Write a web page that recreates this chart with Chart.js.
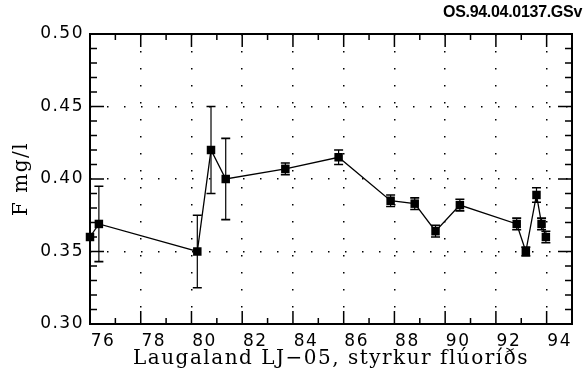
<!DOCTYPE html>
<html>
<head>
<meta charset="utf-8">
<script src="https://cdn.jsdelivr.net/npm/chart.js@4/dist/chart.umd.min.js"></script>
<style>
  html, body { margin: 0; padding: 0; background: #fff; }
  #wrap { position: relative; width: 586px; height: 380px; }
  #kodi {
    position: absolute; right: 4px; top: 3px;
    font: bold 16px "Liberation Sans", Arial, sans-serif;
    letter-spacing: -0.3px; color: #000;
  }
</style>
</head>
<body>
<div id="wrap">
  <div id="kodi">OS.94.04.0137.GSv</div>
  <canvas id="graf" width="586" height="380"></canvas>
</div>
<script>
// ar (19xx) og styrkur fluorids (mg/l) med ovissu
const ar = [76.0, 76.35, 80.23, 80.77, 81.35, 83.7, 85.8, 87.85, 88.8, 89.62, 90.58, 92.82, 93.18, 93.6, 93.8, 93.97];
const fluor = [0.360, 0.369, 0.350, 0.420, 0.400, 0.407, 0.415, 0.385, 0.383, 0.364, 0.382, 0.369, 0.350, 0.389, 0.369, 0.360];
const ovissa = [0, 0.026, 0.025, 0.030, 0.028, 0.004, 0.005, 0.004, 0.004, 0.004, 0.004, 0.004, 0.003, 0.005, 0.004, 0.004];
const xMerki = [76, 78, 80, 82, 84, 86, 88, 90, 92, 94];
const yMerki = [0.30, 0.35, 0.40, 0.45, 0.50];

const punktar = ar.map((x, i) => ({ x: x, y: fluor[i] }));

// breidara letur eins og a frumritinu
const stafabil = {
    id: 'stafabil',
    beforeLayout(chart) { chart.ctx.letterSpacing = '1.5px'; },
    beforeDraw(chart) { chart.ctx.letterSpacing = '1.5px'; }
};

// villustrik
const villuPlugin = {
    id: 'villur',
    afterDatasetsDraw(chart) {
        const ctx = chart.ctx;
        const xs = chart.scales.x;
        const ys = chart.scales.y;
        ctx.save();
        ctx.strokeStyle = '#000';
        ar.forEach((x, i) => {
            if (!ovissa[i]) return;
            const px = xs.getPixelForValue(x);
            const y1 = ys.getPixelForValue(fluor[i] + ovissa[i]);
            const y2 = ys.getPixelForValue(fluor[i] - ovissa[i]);
            ctx.lineWidth = 1.2;
            ctx.beginPath();
            ctx.moveTo(px, y1);
            ctx.lineTo(px, y2);
            ctx.stroke();
            ctx.lineWidth = 1.6;
            ctx.beginPath();
            ctx.moveTo(px - 4.5, y1);
            ctx.lineTo(px + 4.5, y1);
            ctx.moveTo(px - 4.5, y2);
            ctx.lineTo(px + 4.5, y2);
            ctx.stroke();
        });
        ctx.restore();
    }
};

// rammi og innvisandi strik
const rammiPlugin = {
    id: 'rammi',
    afterDraw(chart) {
        const ctx = chart.ctx;
        const a = chart.chartArea;
        const xs = chart.scales.x;
        const ys = chart.scales.y;
        ctx.save();
        ctx.strokeStyle = '#000';
        ctx.lineWidth = 1.5;
        ctx.beginPath();
        for (let v = 76; v <= 95; v++) {
            const px = xs.getPixelForValue(v);
            const len = v % 2 === 0 ? 13 : 6;
            ctx.moveTo(px, a.bottom);
            ctx.lineTo(px, a.bottom - len);
            ctx.moveTo(px, a.top);
            ctx.lineTo(px, a.top + len);
        }
        for (let k = 30; k <= 50; k++) {
            const py = ys.getPixelForValue(k / 100);
            const len = k % 5 === 0 ? 14 : 7;
            ctx.moveTo(a.left, py);
            ctx.lineTo(a.left + len, py);
            ctx.moveTo(a.right, py);
            ctx.lineTo(a.right - len, py);
        }
        ctx.stroke();
        ctx.lineWidth = 2;
        ctx.strokeRect(a.left, a.top, a.right - a.left, a.bottom - a.top);
        ctx.restore();
    }
};

new Chart(document.getElementById('graf'), {
    type: 'line',
    data: {
        datasets: [{
            data: punktar,
            borderColor: '#000',
            borderWidth: 1.3,
            backgroundColor: '#000',
            pointStyle: 'rect',
            pointRadius: 6,
            pointBorderWidth: 0,
            pointBackgroundColor: '#000',
            tension: 0,
            fill: false,
            clip: false
        }]
    },
    options: {
        responsive: false,
        animation: false,
        events: [],
        layout: { padding: { left: 0, right: 14, top: 34, bottom: 0 } },
        plugins: {
            legend: { display: false },
            tooltip: { enabled: false }
        },
        scales: {
            x: {
                type: 'linear',
                min: 76,
                max: 95,
                afterBuildTicks: s => { s.ticks = xMerki.map(v => ({ value: v })); },
                afterFit: s => { s.height = 56; },
                grid: { color: '#000', lineWidth: 1.5, drawTicks: false },
                border: { display: false, dash: [1.5, 15.5] },
                ticks: {
                    color: '#000',
                    padding: 7,
                    labelOffset: 13,
                    maxRotation: 0,
                    font: { family: 'DejaVu Sans', size: 17 },
                    callback: v => String(v)
                },
                title: {
                    display: true,
                    text: 'Laugaland LJ\u221205, styrkur flúoríðs',
                    color: '#000',
                    font: { family: 'DejaVu Serif', size: 20 },
                    padding: { top: 0, bottom: 9 }
                }
            },
            y: {
                min: 0.30,
                max: 0.50,
                afterBuildTicks: s => { s.ticks = yMerki.map(v => ({ value: v })); },
                afterFit: s => { s.width = 90; },
                grid: { color: '#000', lineWidth: 1.5, drawTicks: false },
                border: { display: false, dash: [1.5, 15.5] },
                ticks: {
                    color: '#000',
                    padding: 6,
                    font: { family: 'DejaVu Sans', size: 17 },
                    callback: v => v.toFixed(2)
                },
                title: {
                    display: true,
                    text: 'F mg/l',
                    color: '#000',
                    font: { family: 'DejaVu Serif', size: 20 },
                    padding: { top: 10, bottom: 0 }
                }
            }
        }
    },
    plugins: [stafabil, villuPlugin, rammiPlugin]
});
</script>
</body>
</html>
